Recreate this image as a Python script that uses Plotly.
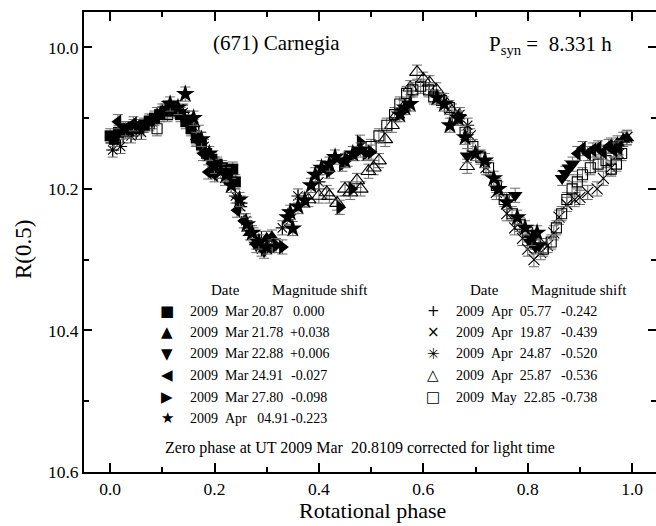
import plotly.graph_objects as go

# ---------------- data (phase, reduced magnitude R(0.5)) ----------------
ph_mar2087 = [0.000, 0.008, 0.016, 0.025, 0.035, 0.045, 0.055, 0.065, 0.075, 0.085, 0.095, 0.105, 0.115,
              0.125, 0.135, 0.145, 0.155, 0.165, 0.175, 0.185, 0.195, 0.205, 0.215, 0.225, 0.235, 0.240]
mag_mar2087 = [10.125, 10.130, 10.120, 10.115, 10.118, 10.112, 10.115, 10.110, 10.104, 10.100, 10.095, 10.090, 10.088,
               10.090, 10.095, 10.105, 10.115, 10.128, 10.138, 10.150, 10.158, 10.165, 10.170, 10.178, 10.172, 10.190]

ph_mar2178 = [0.268, 0.280, 0.290, 0.300, 0.310, 0.960, 0.972, 0.983, 0.990]
mag_mar2178 = [10.262, 10.275, 10.280, 10.270, 10.268, 10.138, 10.135, 10.130, 10.128]

ph_mar2288 = [0.280, 0.295, 0.684, 0.776, 0.805, 0.815, 0.822, 0.866, 0.872, 0.879, 0.886]
mag_mar2288 = [10.280, 10.288, 10.153, 10.209, 10.275, 10.282, 10.280, 10.185, 10.178, 10.170, 10.165]

ph_mar2491 = [0.015, 0.030, 0.045, 0.165, 0.178, 0.188, 0.200, 0.243, 0.256, 0.895, 0.905, 0.915,
              0.925, 0.935, 0.945, 0.955, 0.965, 0.975]
mag_mar2491 = [10.105, 10.115, 10.108, 10.130, 10.150, 10.176, 10.180, 10.230, 10.245, 10.150, 10.143, 10.150,
               10.145, 10.142, 10.148, 10.140, 10.145, 10.142]

ph_mar2780 = [0.318, 0.330, 0.420, 0.440, 0.445, 0.455, 0.463, 0.470, 0.479, 0.490, 0.500]
mag_mar2780 = [10.280, 10.282, 10.175, 10.226, 10.165, 10.158, 10.200, 10.150, 10.134, 10.150, 10.148]

ph_apr0491 = [0.115, 0.130, 0.144, 0.160, 0.175, 0.190, 0.200, 0.212, 0.222, 0.232, 0.248, 0.262, 0.272,
              0.285, 0.300, 0.340, 0.345, 0.350, 0.360, 0.373, 0.385, 0.393, 0.405, 0.420, 0.431, 0.450,
              0.465, 0.480, 0.555, 0.565, 0.575, 0.626, 0.640, 0.651, 0.667, 0.680, 0.700, 0.718, 0.735,
              0.744, 0.760, 0.780, 0.795, 0.808, 0.818]
mag_apr0491 = [10.080, 10.085, 10.066, 10.100, 10.130, 10.150, 10.168, 10.175, 10.180, 10.195, 10.215, 10.250, 10.262,
               10.275, 10.282, 10.240, 10.233, 10.256, 10.225, 10.216, 10.195, 10.180, 10.170, 10.165, 10.155, 10.160,
               10.150, 10.145, 10.095, 10.085, 10.080, 10.071, 10.080, 10.110, 10.100, 10.127, 10.150, 10.160, 10.185,
               10.200, 10.219, 10.240, 10.255, 10.270, 10.262]

ph_apr0577 = [0.005, 0.025, 0.050, 0.090, 0.110, 0.140, 0.170, 0.210, 0.250, 0.290]
mag_apr0577 = [10.135, 10.125, 10.120, 10.095, 10.085, 10.090, 10.120, 10.170, 10.220, 10.270]

ph_apr1987 = [0.660, 0.690, 0.720, 0.740, 0.760, 0.775, 0.790, 0.800, 0.812, 0.825, 0.838, 0.850, 0.860,
              0.875, 0.890, 0.900, 0.915, 0.933, 0.945, 0.960, 0.975, 0.990]
mag_apr1987 = [10.095, 10.125, 10.170, 10.205, 10.235, 10.255, 10.270, 10.285, 10.300, 10.290, 10.280, 10.262, 10.240,
               10.222, 10.215, 10.212, 10.205, 10.200, 10.185, 10.170, 10.150, 10.127]

ph_apr2487 = [0.005, 0.020, 0.040, 0.060, 0.080, 0.100, 0.120, 0.140, 0.150, 0.160, 0.180, 0.200, 0.220,
              0.240, 0.250, 0.260, 0.275, 0.290, 0.310, 0.330, 0.360, 0.400, 0.670, 0.685]
mag_apr2487 = [10.145, 10.140, 10.125, 10.120, 10.105, 10.090, 10.085, 10.092, 10.100, 10.112, 10.140, 10.165, 10.185,
               10.210, 10.225, 10.245, 10.265, 10.285, 10.280, 10.255, 10.210, 10.190, 10.095, 10.110]

ph_apr2587 = [0.380, 0.400, 0.415, 0.420, 0.435, 0.450, 0.460, 0.473, 0.480, 0.495, 0.505, 0.515, 0.527,
              0.540, 0.550, 0.562, 0.575, 0.588, 0.600, 0.612, 0.625, 0.640, 0.655, 0.684]
mag_apr2587 = [10.215, 10.210, 10.205, 10.210, 10.220, 10.200, 10.205, 10.188, 10.200, 10.175, 10.170, 10.160, 10.130,
               10.110, 10.095, 10.085, 10.057, 10.035, 10.045, 10.050, 10.060, 10.075, 10.090, 10.168]

ph_may2285 = [0.030, 0.055, 0.075, 0.090, 0.110, 0.500, 0.515, 0.530, 0.545, 0.555, 0.568, 0.580, 0.595,
              0.610, 0.620, 0.635, 0.650, 0.665, 0.680, 0.695, 0.710, 0.725, 0.740, 0.755, 0.770, 0.785,
              0.800, 0.815, 0.830, 0.845, 0.855, 0.865, 0.875, 0.885, 0.895, 0.905, 0.920, 0.935, 0.950,
              0.960, 0.970, 0.980]
mag_may2285 = [10.118, 10.112, 10.108, 10.115, 10.095, 10.140, 10.125, 10.110, 10.095, 10.080, 10.065, 10.060, 10.055,
               10.060, 10.070, 10.075, 10.085, 10.100, 10.120, 10.140, 10.155, 10.170, 10.195, 10.215, 10.235, 10.250,
               10.262, 10.275, 10.285, 10.275, 10.255, 10.235, 10.215, 10.200, 10.190, 10.180, 10.170, 10.165, 10.160,
               10.172, 10.165, 10.150]

mag_error = 0.010

left_dates = ["2009\u00a0\u00a0Mar 20.87", "2009\u00a0\u00a0Mar 21.78", "2009\u00a0\u00a0Mar 22.88",
              "2009\u00a0\u00a0Mar 24.91", "2009\u00a0\u00a0Mar 27.80", "2009\u00a0\u00a0Apr\u00a0\u00a0\u00a004.91"]
left_shifts = ["0.000", "+0.038", "+0.006", "-0.027", "-0.098", "-0.223"]
left_glyphs = ["\u25A0", "\u25B2", "\u25BC", "\u25C0", "\u25B6", "\u2605"]

right_dates = ["2009\u00a0\u00a0Apr\u00a0\u00a005.77", "2009\u00a0\u00a0Apr\u00a0\u00a019.87",
               "2009\u00a0\u00a0Apr\u00a0\u00a024.87", "2009\u00a0\u00a0Apr\u00a0\u00a025.87",
               "2009\u00a0\u00a0May\u00a0\u00a022.85"]
right_shifts = ["-0.242", "-0.439", "-0.520", "-0.536", "-0.738"]
right_glyphs = ["+", "\u00D7", "\u2733", "\u25B3", "\u25A1"]

x_ticks = [0.0, 0.2, 0.4, 0.6, 0.8, 1.0]
y_ticks = [10.0, 10.2, 10.4, 10.6]

# ---------------- figure ----------------
W, H = 656, 526
ML, MR, MT, MB = 84, 0, 12, 54
PW, PH = W - ML - MR, H - MT - MB
PX_PER_PHASE = 522.0
x_range = [-0.05, -0.05 + PW / PX_PER_PHASE]
y_range = [10.6, 9.95]

SERIF = "Liberation Serif"

def px(X):
    return (X - ML) / PW

def py(Y):
    return (H - MB - Y) / PH

fig = go.Figure()

series = [
    (ph_apr0577, mag_apr0577, "cross-thin-open", 10, "y"),
    (ph_apr1987, mag_apr1987, "x-thin-open", 11, "y"),
    (ph_apr2487, mag_apr2487, "asterisk-open", 11, "y"),
    (ph_apr2587, mag_apr2587, "triangle-up-open", 13, "y"),
    (ph_may2285, mag_may2285, "square-open", 10, "y"),
    (ph_mar2087, mag_mar2087, "square", 11, "y"),
    (ph_mar2178, mag_mar2178, "triangle-up", 13, "y"),
    (ph_mar2288, mag_mar2288, "triangle-down", 13, "y"),
    (ph_mar2491, mag_mar2491, "triangle-left", 13, "y"),
    (ph_mar2780, mag_mar2780, "triangle-right", 13, "y"),
    (ph_apr0491, mag_apr0491, "star", 14, "y2"),
]

for xs, ys, sym, size, yax in series:
    is_open = "open" in sym
    fig.add_trace(go.Scatter(
        x=xs, y=ys, mode="markers", yaxis=yax, showlegend=False,
        error_y=dict(type="constant", value=mag_error, color="#6a6a6a", thickness=1, width=5),
        marker=dict(symbol=sym, size=size,
                    color="black",
                    line=dict(color="black", width=1.1 if is_open else 0)),
    ))

axis_font = dict(family=SERIF, size=17.5, color="black")

fig.update_layout(
    width=W, height=H,
    margin=dict(l=ML, r=MR, t=MT, b=MB, pad=0),
    paper_bgcolor="white", plot_bgcolor="white",
    showlegend=False,
    font=dict(family=SERIF, color="black"),
    xaxis=dict(range=x_range, showgrid=False, zeroline=False,
               showline=True, linecolor="black", linewidth=2, mirror="ticks",
               ticks="inside", ticklen=9, tickwidth=1.5, tickcolor="black",
               tickvals=x_ticks, ticktext=[f"{v:.1f}" for v in x_ticks],
               tickfont=axis_font,
               minor=dict(dtick=0.1, tick0=0, ticks="inside", ticklen=5, tickwidth=1.5, tickcolor="black")),
    yaxis=dict(range=y_range, showgrid=False, zeroline=False,
               showline=True, linecolor="black", linewidth=2, mirror=False,
               ticks="inside", ticklen=8, tickwidth=1.5, tickcolor="black",
               tickvals=y_ticks, ticktext=[f"{v:.1f}" for v in y_ticks],
               tickfont=axis_font,
               minor=dict(dtick=0.1, tick0=10.0, ticks="inside", ticklen=5, tickwidth=1.5, tickcolor="black")),
    yaxis2=dict(range=y_range, overlaying="y", side="right", anchor="x",
                showgrid=False, zeroline=False, showline=False,
                ticks="inside", ticklen=8, tickwidth=1.5, tickcolor="black",
                tickvals=y_ticks, showticklabels=False,
                minor=dict(dtick=0.1, tick0=10.0, ticks="inside", ticklen=5, tickwidth=1.5, tickcolor="black")),
)

ann = []

def add_text(text, X, Y, size, xanchor="center", family=SERIF, angle=0):
    ann.append(dict(text=text, x=px(X), y=py(Y), xref="paper", yref="paper",
                    xanchor=xanchor, yanchor="middle", showarrow=False, textangle=angle,
                    font=dict(family=family, size=size, color="black")))

# titles
add_text("(671) Carnegia", 276, 43, 21)
add_text("P<sub>syn</sub> =\u00a0 8.331 h", 550, 45, 21)
add_text("Rotational phase", 372, 510, 22)
add_text("R(0.5)", 23, 250, 23, angle=-90)

# legend headers
add_text("Date", 225, 290, 15)
add_text("Magnitude shift", 320, 290, 15)
add_text("Date", 484, 290, 15)
add_text("Magnitude shift", 579, 290, 15)

row_y = [311, 332, 354, 375, 397, 418]
for i, (g, d, s) in enumerate(zip(left_glyphs, left_dates, left_shifts)):
    add_text(g, 167, row_y[i], 15, family="DejaVu Sans")
    add_text(d, 188, row_y[i], 14, xanchor="left")
    add_text(s, 309, row_y[i], 14)
for i, (g, d, s) in enumerate(zip(right_glyphs, right_dates, right_shifts)):
    add_text(g, 433, row_y[i], 15, family="DejaVu Sans")
    add_text(d, 454, row_y[i], 14, xanchor="left")
    add_text(s, 579, row_y[i], 14)

add_text("Zero phase at UT 2009 Mar\u00a0 20.8109 corrected for light time", 163, 448, 16, xanchor="left")

fig.update_layout(annotations=ann)

fig.write_html("out.html")
